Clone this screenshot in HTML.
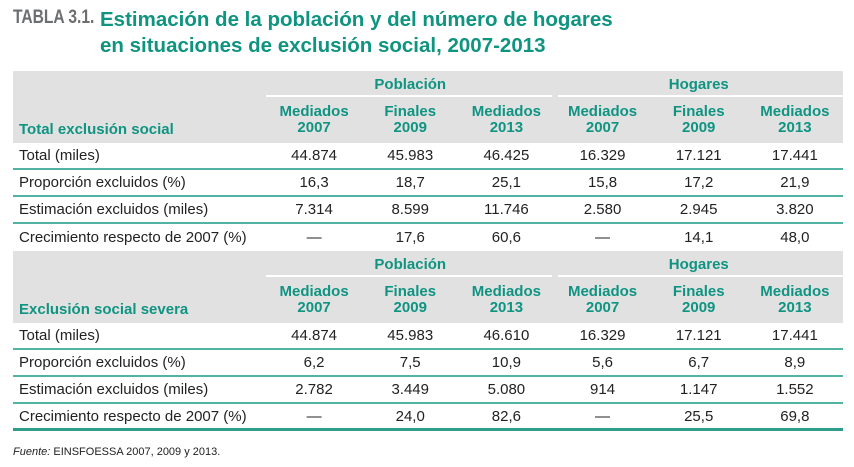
<!DOCTYPE html>
<html><head><meta charset="utf-8"><style>
body{margin:0;width:854px;height:467px;background:#fff;font-family:"Liberation Sans",sans-serif;position:relative;overflow:hidden}
.t{position:absolute;white-space:nowrap}
#tag{left:13px;top:7px;font-size:19px;font-weight:bold;color:#6d6e70;transform:scaleX(.82);transform-origin:left}
.ttl{left:100px;font-size:20.5px;font-weight:bold;color:#0f9480}
.tbl{position:absolute;left:13px;top:71px;width:830px}
.r{display:flex;box-sizing:border-box;height:27px;align-items:center;font-size:15px;color:#222}
.r>div{width:96.17px;text-align:center}
.r>div:first-child{width:253px;text-align:left;padding-left:6px;box-sizing:border-box}
.d{border-bottom:2px solid #52b3a5}
.last{border-bottom:3px solid #2f9c8c}
.h{background:#e1e1e2;color:#109482;font-weight:bold}
.h1{height:26px;position:relative}
.h1>div.g{width:288.5px}
.h1 .u{position:absolute;bottom:0;height:2px;background:#fff}
.h2{height:46px;line-height:16px}
.h2>div:first-child{align-self:flex-end;padding-bottom:5px}
#src{left:13px;top:446px;font-size:11px;color:#222}
</style></head><body>
<div class="t" id="tag">TABLA 3.1.</div>
<div class="t ttl" style="top:8px">Estimación de la población y del número de hogares</div>
<div class="t ttl" style="top:34px">en situaciones de exclusión social, 2007-2013</div>
<div class="tbl">
<div class="r h h1"><div></div><div class="g">Población</div><div class="g">Hogares</div><span class="u" style="left:253px;width:286px"></span><span class="u" style="left:545px;width:285px"></span></div>
<div class="r h h2"><div>Total exclusión social</div><div>Mediados<br>2007</div><div>Finales<br>2009</div><div>Mediados<br>2013</div><div>Mediados<br>2007</div><div>Finales<br>2009</div><div>Mediados<br>2013</div></div>
<div class="r d"><div>Total (miles)</div><div>44.874</div><div>45.983</div><div>46.425</div><div>16.329</div><div>17.121</div><div>17.441</div></div>
<div class="r d"><div>Proporción excluidos (%)</div><div>16,3</div><div>18,7</div><div>25,1</div><div>15,8</div><div>17,2</div><div>21,9</div></div>
<div class="r d"><div>Estimación excluidos (miles)</div><div>7.314</div><div>8.599</div><div>11.746</div><div>2.580</div><div>2.945</div><div>3.820</div></div>
<div class="r"><div>Crecimiento respecto de 2007 (%)</div><div>—</div><div>17,6</div><div>60,6</div><div>—</div><div>14,1</div><div>48,0</div></div>
<div class="r h h1"><div></div><div class="g">Población</div><div class="g">Hogares</div><span class="u" style="left:253px;width:286px"></span><span class="u" style="left:545px;width:285px"></span></div>
<div class="r h h2"><div>Exclusión social severa</div><div>Mediados<br>2007</div><div>Finales<br>2009</div><div>Mediados<br>2013</div><div>Mediados<br>2007</div><div>Finales<br>2009</div><div>Mediados<br>2013</div></div>
<div class="r d"><div>Total (miles)</div><div>44.874</div><div>45.983</div><div>46.610</div><div>16.329</div><div>17.121</div><div>17.441</div></div>
<div class="r d"><div>Proporción excluidos (%)</div><div>6,2</div><div>7,5</div><div>10,9</div><div>5,6</div><div>6,7</div><div>8,9</div></div>
<div class="r d"><div>Estimación excluidos (miles)</div><div>2.782</div><div>3.449</div><div>5.080</div><div>914</div><div>1.147</div><div>1.552</div></div>
<div class="r last"><div>Crecimiento respecto de 2007 (%)</div><div>—</div><div>24,0</div><div>82,6</div><div>—</div><div>25,5</div><div>69,8</div></div>
</div>
<div class="t" id="src"><i>Fuente:</i> EINSFOESSA 2007, 2009 y 2013.</div>
</body></html>
